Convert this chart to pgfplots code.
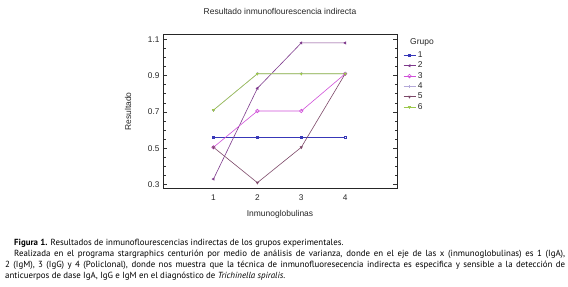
\documentclass[border=0pt]{standalone}
\usepackage{pgfplots}
\pgfplotsset{compat=1.18}
\usepackage{fontspec}
\setmainfont{Liberation Sans}
\newfontfamily\capfont{PT Sans}
\definecolor{gA}{HTML}{3838B8}
\definecolor{gB}{HTML}{7E3A8C}
\definecolor{gC}{HTML}{D050D8}
\definecolor{gD}{HTML}{B4A8D8}
\definecolor{gE}{HTML}{7C4868}
\definecolor{gF}{HTML}{9CC84C}
\begin{document}
\begin{tikzpicture}
\useasboundingbox (0,0) rectangle (568bp,287bp);
\begin{axis}[
  at={(163bp,98.7bp)}, anchor=south west,
  scale only axis, width=234bp, height=153.8bp,
  xmin=-0.15, xmax=5.18, ymin=0.279, ymax=1.1264,
  axis line style={line width=0.8pt, black!85},
  xtick={1,2,3,4}, xtick style={draw=none},
  ytick={0.3,0.5,0.7,0.9,1.1},
  minor y tick num=3,
  yticklabel style={/pgf/number format/.cd, fixed, fixed zerofill, precision=1},
  xticklabel style={yshift=-3bp},
  /pgf/number format/assume math mode=true,
  tick align=inside,
  major tick length=4bp, minor tick length=2.5bp,
  tick style={black!80, line width=0.6pt},
  ticklabel style={font=\fontsize{8.3}{10}\selectfont, text=black!85},
  title={Resultado inmunoflourescencia indirecta},
  title style={font=\fontsize{8.5}{10}\selectfont, text=black!85, yshift=10bp},
  xlabel={Inmunoglobulinas}, ylabel={Resultado},
  label style={font=\fontsize{8.5}{10}\selectfont, text=black!85},
  xlabel style={yshift=-3bp},
  ylabel style={yshift=10bp},
  legend style={at={(rel axis cs:1,1)}, anchor=north west, xshift=5bp, yshift=-14bp,
    draw=none, fill=none, font=\fontsize{8.5}{10}\selectfont, text=black!85,
    row sep=-1bp, inner sep=1bp},
  legend cell align=left,
  legend image code/.code={\draw[mark repeat=2, mark phase=2, #1] plot coordinates {(0bp,0bp)(6bp,0bp)(12bp,0bp)};},
  every axis plot/.append style={line width=0.6pt},
]
\addplot[gA, mark=square, mark size=1.2pt] coordinates {(1,0.56)(2,0.56)(3,0.56)(4,0.56)};
\addlegendentry{1}
\addplot[gB, mark=triangle*, mark size=1.3pt, mark options={rotate=90}] coordinates {(1,0.33)(2,0.83)(3,1.08)(4,1.08)};
\addlegendentry{2}
\addplot[gC, mark=o, mark size=1.8pt] coordinates {(1,0.505)(2,0.705)(3,0.705)(4,0.91)};
\addlegendentry{3}
\addplot[gD, mark=+, mark size=1.5pt] coordinates {(1,0.71)(2,0.91)(3,0.91)(4,0.91)};
\addlegendentry{4}
\addplot[gE, mark=triangle*, mark size=1.3pt, mark options={rotate=180}] coordinates {(1,0.505)(2,0.31)(3,0.505)(4,0.91)};
\addlegendentry{5}
\addplot[gF, mark=triangle*, mark size=1.3pt, mark options={rotate=180}] coordinates {(1,0.71)(2,0.91)(3,0.91)(4,0.91)};
\addlegendentry{6}
\end{axis}
\node[anchor=south west, inner sep=0, font=\fontsize{8.5}{10}\selectfont, text=black!85] at (410bp,241bp) {Grupo};
\node[anchor=north west, inner sep=0] at (5bp,48bp) {\begin{minipage}{560bp}\capfont\fontsize{8.9}{11}\selectfont\setlength\parindent{9bp}\hyphenpenalty=10000
\textbf{Figura 1.} Resultados de inmunoflourescencias indirectas de los grupos experimentales.\par
Realizada en el programa stargraphics centurión por medio de análisis de varianza, donde en el eje de las x (inmunoglobulinas) es 1 (IgA),\linebreak
2 (IgM), 3 (IgG) y 4 (Policlonal), donde nos muestra que la técnica de inmunofluoresecencia indirecta es especifica y sensible a la detección de\linebreak
anticuerpos de dase IgA, IgG e IgM en el diagnóstico de \textit{Trichinella spiralis}.\par
\end{minipage}};
\end{tikzpicture}
\end{document}
